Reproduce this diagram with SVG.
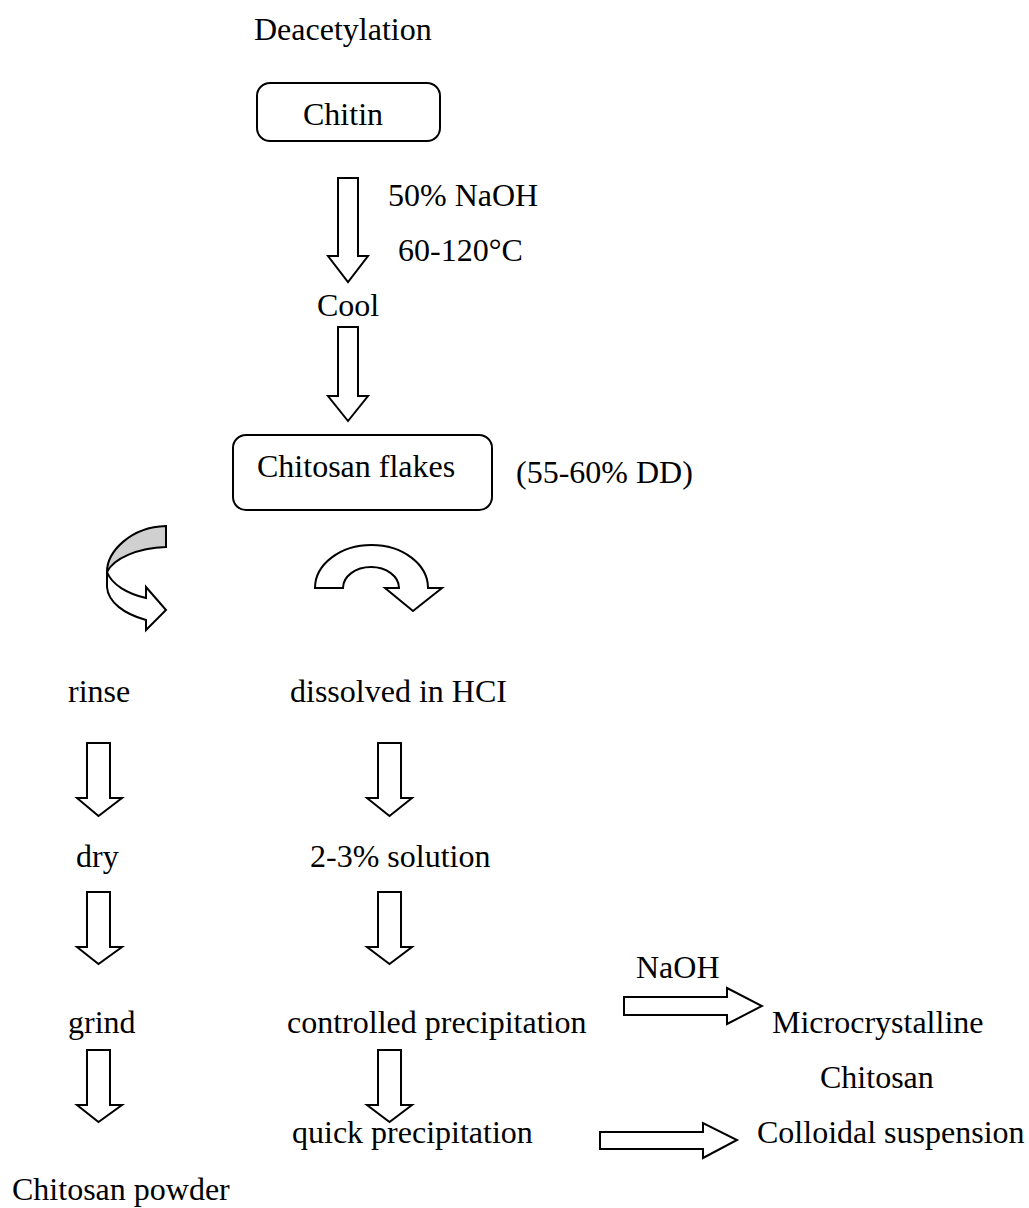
<svg xmlns="http://www.w3.org/2000/svg" width="1029" height="1208" viewBox="0 0 1029 1208">
<style>
text{font-family:"Liberation Serif","Times New Roman",serif;font-size:32px;fill:#000}
.box{fill:#fff;stroke:#000;stroke-width:2}
.arr{fill:#fff;stroke:#000;stroke-width:2;stroke-linejoin:miter}
</style>
<rect width="1029" height="1208" fill="#fff"/>
<g id="title"><text x="254" y="40">Deacetylation</text></g>
<g id="chitin"><rect class="box" x="257" y="83" width="183" height="58" rx="13"/><text x="303" y="125">Chitin</text></g>
<g id="cond1"><text x="388" y="206">50% NaOH</text></g>
<g id="cond2"><text x="398" y="261">60-120°C</text></g>
<g id="cool"><text x="317" y="316">Cool</text></g>
<g id="flakes"><rect class="box" x="233" y="435" width="259" height="75" rx="13"/><text x="257" y="477">Chitosan flakes</text></g>
<g id="dd"><text x="516" y="483">(55-60% DD)</text></g>
<g id="rinse"><text x="68" y="702">rinse</text></g>
<g id="dissolved"><text x="290" y="702">dissolved in HCI</text></g>
<g id="dry"><text x="76" y="867">dry</text></g>
<g id="solution"><text x="310" y="867">2-3% solution</text></g>
<g id="grind"><text x="68" y="1033">grind</text></g>
<g id="controlled"><text x="287" y="1033">controlled precipitation</text></g>
<g id="naoh"><text x="636" y="978">NaOH</text></g>
<g id="micro"><text x="772" y="1033">Microcrystalline</text><text x="820" y="1088">Chitosan</text></g>
<g id="quick"><text x="292" y="1143">quick precipitation</text></g>
<g id="colloidal"><text x="757" y="1143">Colloidal suspension</text></g>
<g id="powder"><text x="12" y="1200">Chitosan powder</text></g>
<g id="connectors">
<path class="arr" d="M338,178 H358 V256 H368 L348,282 L328,256 H338 Z"/>
<path class="arr" d="M338,327 H358 V396 H368 L348,421 L328,396 H338 Z"/>
<path class="arr" d="M166,526 V547 C138,548 114,558 107,572 C107,552 130,527 166,526 Z" fill="#d0d0d0" style="fill:#d0d0d0"/>
<path class="arr" d="M107,572 C112,585 128,594 146,598 V587 L166,610 L146,630 V620 C124,614 108,602 107,587 Z"/>
<path class="arr" d="M315,588 A56.5,43 0 0 1 428,588 L442,588 L413,611 L385,588 L399,588 A28,21 0 0 0 343,588 Z"/>
<path class="arr" d="M87,743 H110 V798 H122 L98.5,816 L77,798 H87 Z"/>
<path class="arr" d="M378,743 H401 V798 H412 L389.5,816 L367,798 H378 Z"/>
<path class="arr" d="M87,892 H110 V947 H122 L98.5,964 L77,947 H87 Z"/>
<path class="arr" d="M378,892 H401 V947 H412 L389.5,964 L367,947 H378 Z"/>
<path class="arr" d="M87,1050 H110 V1105 H122 L98.5,1122 L77,1105 H87 Z"/>
<path class="arr" d="M378,1050 H401 V1105 H412 L389.5,1122 L367,1105 H378 Z"/>
<path class="arr" d="M624,997 H727 V988 L762,1006 L727,1024 V1015 H624 Z"/>
<path class="arr" d="M600,1132 H703 V1123 L737,1140 L703,1158 V1149 H600 Z"/>
</g>
</svg>
